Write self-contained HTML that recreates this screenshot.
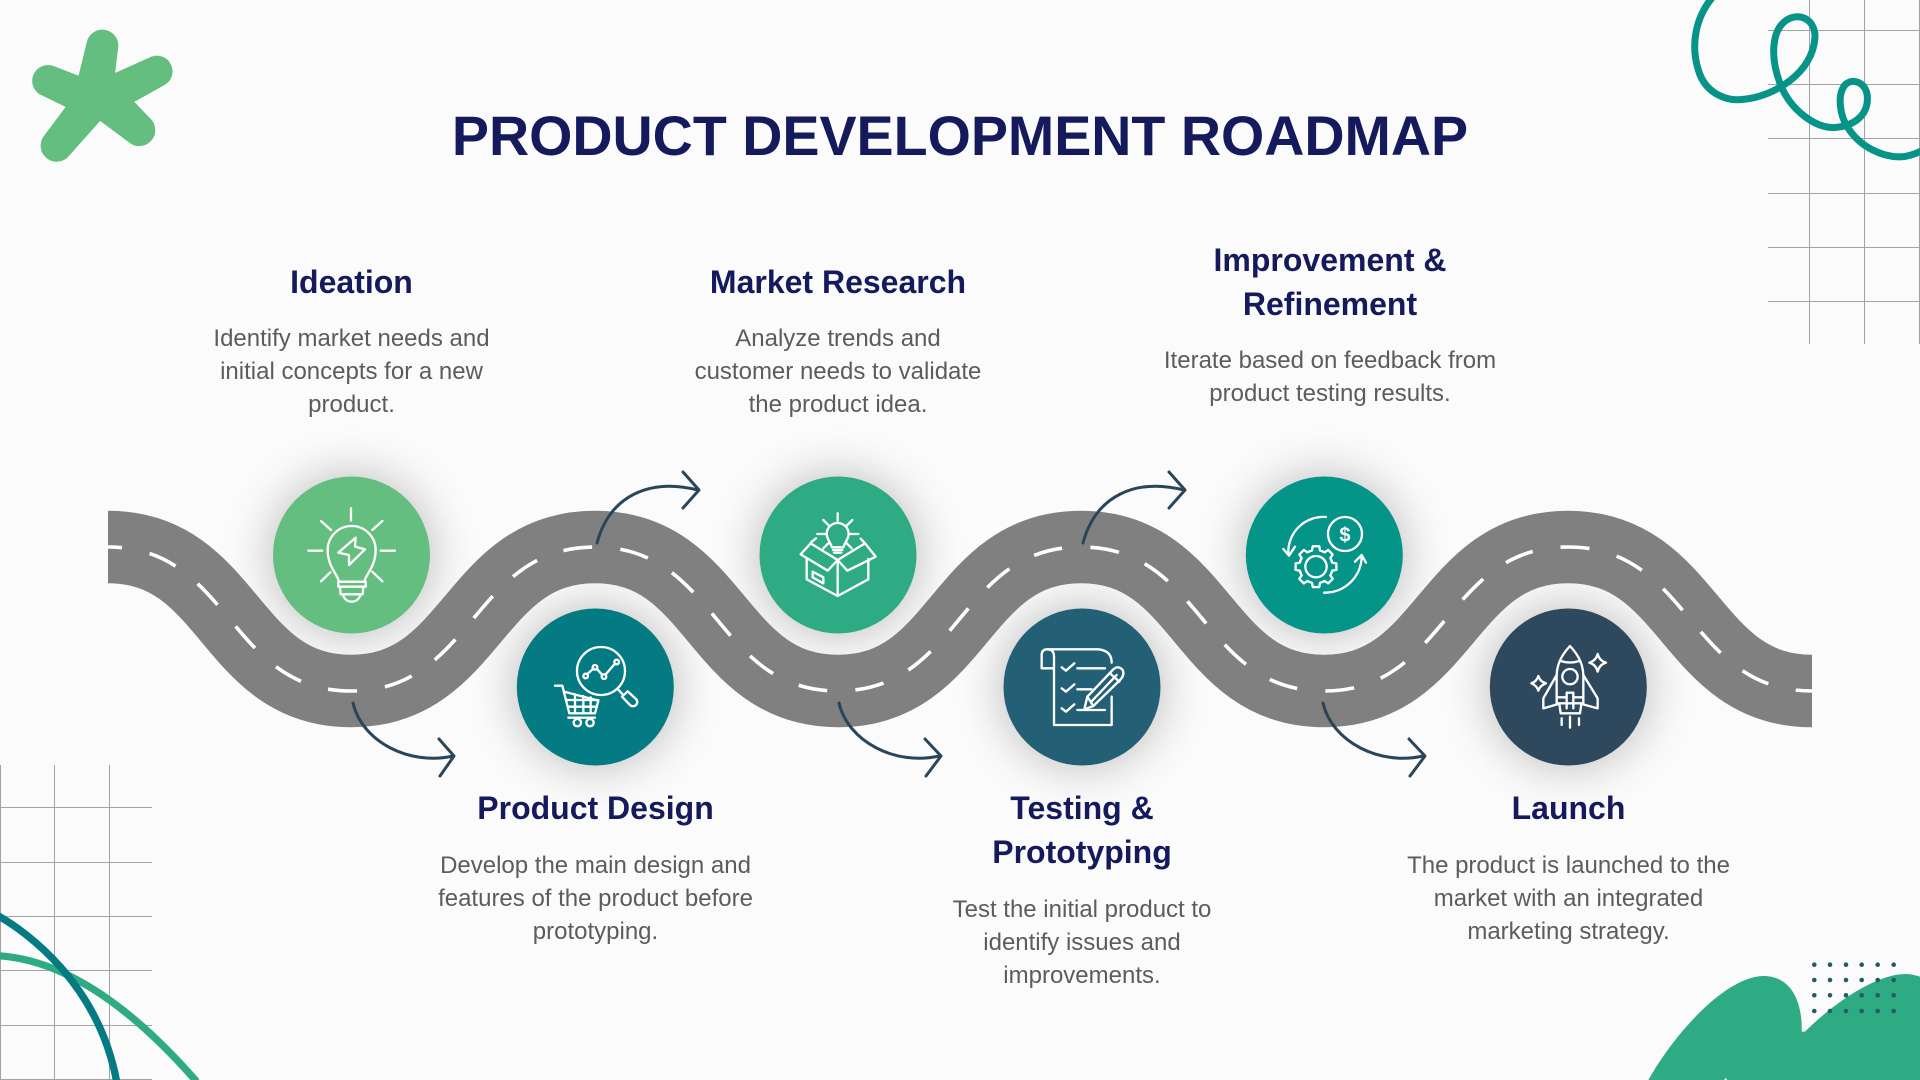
<!DOCTYPE html>
<html lang="en">
<head>
<meta charset="utf-8">
<title>Product Development Roadmap</title>
<style>
html,body{margin:0;padding:0;width:1920px;height:1080px;overflow:hidden;background:#fbfbfc}
svg{display:block;font-family:"Liberation Sans",Arial,sans-serif}
.h{font-weight:700;font-size:32px;fill:#141a5b;text-anchor:middle}
.d{font-size:24px;fill:#5c5c5c;text-anchor:middle}
.ic{fill:none;stroke:#fff;stroke-width:7;stroke-linecap:round;stroke-linejoin:round}
.arr{fill:none;stroke:#2b4558;stroke-width:3;stroke-linecap:round;stroke-linejoin:round}
.g{stroke:#a2a2a2;stroke-width:1;fill:none}
</style>
</head>
<body>
<svg width="1920" height="1080" viewBox="0 0 1920 1080" xmlns="http://www.w3.org/2000/svg">
<defs>
<filter id="b" x="-80%" y="-80%" width="260%" height="260%"><feGaussianBlur stdDeviation="24"/></filter>
</defs>
<rect width="1920" height="1080" fill="#fbfbfc"/>

<!-- grids -->
<path class="g" d="M1768 30.500H1920M1768 84.500H1920M1768 138.500H1920M1768 193.500H1920M1768 247.500H1920M1768 301.500H1920M1809.500 0V344M1864.500 0V344M1919.500 0V344"/>
<path class="g" d="M0 807.500H152M0 862.500H152M0 916.500H152M0 970.500H152M0 1025.500H152M0 1079.500H152M.5 765V1080M54.500 765V1080M109.500 765V1080"/>

<!-- asterisk -->
<g transform="scale(.33333)">
<path fill="#63be7f" stroke="#63be7f" stroke-width="4" stroke-linejoin="round" d="M237 230L262 128A45.500 45.500 0 0 1 352 146L343 222L456 171.500A45 45 0 0 1 494 252.500L400 305L448.500 356A46 46 0 0 1 391.500 428L300 360L205 467A46 46 0 0 1 135 407L200 320L128 285A45 45 0 0 1 160 200Z"/>
</g>

<!-- squiggle -->
<g transform="translate(1640 0) scale(.33333)">
<path fill="none" stroke="#069488" stroke-width="21" stroke-linecap="round" d="M215 -5C170 50 150 130 175 210C195 280 260 305 310 298C400 290 520 220 525 110C525 60 480 35 440 60C395 90 390 170 420 250C450 330 530 390 590 382C650 375 685 340 682 290C680 250 640 230 615 255C590 285 600 350 625 385C660 440 730 475 790 470C810 468 830 460 850 450"/>
</g>

<!-- lower-left arcs -->
<g transform="translate(0 750) scale(.33333)" fill="none" stroke-width="22">
<path stroke="#2fab84" d="M-10 617C150 625 350 720 590 995"/>
<path stroke="#047a82" d="M-10 495C80 545 295 700 350 995"/>
</g>

<!-- blob and dots -->
<g transform="translate(1620 930) scale(.33333)">
<path fill="#2fab84" d="M85 450C170 300 320 140 430 138C510 138 548 210 545 305L555 305C640 220 770 130 860 132C880 133 900 140 900 140V450Z"/>
<path fill="#fff" d="M312 450L317 444L322 450Z"/>
</g>
<g fill="#255a6b">
<circle cx="1814.300" cy="964.700" r="2.300"/><circle cx="1830" cy="964.700" r="2.300"/><circle cx="1846" cy="964.700" r="2.300"/><circle cx="1861.700" cy="964.700" r="2.300"/><circle cx="1877.700" cy="964.700" r="2.300"/><circle cx="1893.700" cy="964.700" r="2.300"/>
<circle cx="1814.300" cy="980" r="2.300"/><circle cx="1830" cy="980" r="2.300"/><circle cx="1846" cy="980" r="2.300"/><circle cx="1861.700" cy="980" r="2.300"/><circle cx="1877.700" cy="980" r="2.300"/><circle cx="1893.700" cy="980" r="2.300"/>
<circle cx="1814.300" cy="995.300" r="2.300"/><circle cx="1830" cy="995.300" r="2.300"/><circle cx="1846" cy="995.300" r="2.300"/><circle cx="1861.700" cy="995.300" r="2.300"/><circle cx="1877.700" cy="995.300" r="2.300"/><circle cx="1893.700" cy="995.300" r="2.300"/>
<circle cx="1814.300" cy="1011" r="2.300"/><circle cx="1830" cy="1011" r="2.300"/><circle cx="1846" cy="1011" r="2.300"/><circle cx="1861.700" cy="1011" r="2.300"/><circle cx="1877.700" cy="1011" r="2.300"/><circle cx="1893.700" cy="1011" r="2.300"/>
</g>

<!-- shadows -->
<g fill="#000" opacity=".25" filter="url(#b)">
<circle cx="351.500" cy="555" r="80"/><circle cx="595.300" cy="687" r="80"/><circle cx="838" cy="555" r="80"/><circle cx="1082" cy="687" r="80"/><circle cx="1324.300" cy="555" r="80"/><circle cx="1568.300" cy="687" r="80"/>
</g>

<!-- road -->
<path fill="none" stroke="#808080" stroke-width="72.500" d="M108 547C231 547 228 691 351 691C474 691 472 547 595 547C718 547 715 691 838 691C961 691 958 547 1081 547C1204 547 1201 691 1324 691C1447 691 1445 547 1568 547C1691 547 1689 691 1812 691"/>
<path fill="none" stroke="#fff" stroke-width="3.600" stroke-dasharray="29 28.220" stroke-dashoffset="15" d="M108 547C231 547 228 691 351 691C474 691 472 547 595 547C718 547 715 691 838 691C961 691 958 547 1081 547C1204 547 1201 691 1324 691C1447 691 1445 547 1568 547C1691 547 1689 691 1812 691"/>

<!-- circles -->
<circle cx="351.500" cy="555" r="78.500" fill="#63be7f"/>
<circle cx="595.300" cy="687" r="78.500" fill="#047a82"/>
<circle cx="838" cy="555" r="78.500" fill="#2fab84"/>
<circle cx="1082" cy="687" r="78.500" fill="#236075"/>
<circle cx="1324.300" cy="555" r="78.500" fill="#049488"/>
<circle cx="1568.300" cy="687" r="78.500" fill="#2e495d"/>

<!-- arrows -->
<g class="arr">
<path d="M353 703C362 742 410 766 453 756M439 739L454 756L440 776"/>
<path d="M839 703C848 742 896 766 939 756M925 739L941 756L926 776"/>
<path d="M1323 703C1332 742 1380 766 1423 756M1409 739L1425 756L1410 776"/>
<path d="M597 543C610 495 650 478 698 490M683 472L699 490L683 508"/>
<path d="M1083 543C1096 495 1136 478 1184 490M1169 472L1185 490L1169 508"/>
</g>

<!-- icon 1: bulb -->
<g class="ic" transform="translate(250 460) scale(.33333)">
<path d="M303 145V182M175 272H217M392 272H435M213 183L243 210M397 183L367 210M213 364L241 337M397 364L367 335"/>
<path d="M267 365C264 345 233 320 233 270A72 72 0 0 1 377 270C377 320 346 345 343 365Z"/>
<path d="M265 365H347V380H265ZM270 380L272 403H338L340 380M278 403Q285 425 305 425Q325 425 332 403"/>
<path d="M317 233L265 278L297 285L297 315L345 268L315 260Z"/>
</g>

<!-- icon 2: cart and magnifier -->
<g class="ic" transform="translate(250 460) scale(.33333)">
<circle cx="1053" cy="633" r="72"/>
<path d="M1012 642L1030 626M1040 626L1056 644M1068 642L1094 612"/>
<circle cx="1007" cy="648" r="7"/><circle cx="1035" cy="622" r="7"/><circle cx="1062" cy="650" r="7"/><circle cx="1100" cy="606" r="7"/>
<path d="M1102 686L1118 703"/>
<path d="M1116 710L1133 694L1158 717A12 12 0 0 1 1140 735Z"/>
<path d="M915 677H937L958 760H1035L1045 722L942 695"/>
<path d="M948 720H1045M953 740H1040M975 703V760M1000 708V760M1022 712V760M955 773H1035"/>
<circle cx="982" cy="788" r="11"/><circle cx="1020" cy="788" r="11"/>
</g>

<!-- icon 3: box and bulb -->
<g class="ic" transform="translate(730 460) scale(.33333)">
<path d="M323 160V183M280 180L297 197M367 180L350 197M262 222H285M362 222H385"/>
<path d="M306 262C300 245 290 235 290 222A33 33 0 0 1 356 222C356 235 346 245 340 262ZM309 270H337M312 278H334"/>
<path d="M230 295V358L323 408L415 358V297M323 300V408"/>
<path d="M323 300L242 250L212 283L293 332Z"/>
<path d="M323 300L405 250L437 290L352 332Z"/>
<path d="M248 335L280 352V370L248 352Z"/>
<path d="M243 247L258 235M405 250L392 236M280 265L295 250M365 265L350 250"/>
</g>

<!-- icon 4: checklist and pencil -->
<g class="ic" transform="translate(730 460) scale(.33333)">
<path d="M952 568H1105Q1145 572 1145 608"/>
<path d="M970 625H935V585Q935 568 952 568Q972 568 972 590V795H1145V710"/>
<path d="M995 622L1008 632L1033 610M995 685L1008 695L1033 673M995 745L1008 755L1033 733"/>
<path d="M1042 625H1125M1042 688H1085M1042 750H1125"/>
<path d="M1063 748L1072 710L1150 628Q1165 615 1178 630Q1185 645 1170 660L1090 738Z"/>
<path d="M1085 724L1160 645M1140 640L1168 665M1072 710L1090 738"/>
</g>

<!-- icon 5: gear and dollar -->
<g class="ic" transform="translate(1220 460) scale(.33333)">
<circle cx="375" cy="222" r="51"/>
<text x="375" y="244" fill="#fff" stroke="none" font-size="60" font-weight="700" text-anchor="middle">$</text>
<path d="M318 171A105 105 0 0 0 205 280M190 267L207 287L225 260"/>
<path d="M312 398A110 110 0 0 0 425 290M405 305L425 285L438 308"/>
<circle cx="288" cy="320" r="32"/>
<g transform="translate(288 320)">
<path d="M46.200 -19.100L48.500 -12.100L61.200 -9.700V9.700L48.500 12.100L46.200 19.100"/>
<path transform="rotate(45)" d="M46.200 -19.100L48.500 -12.100L61.200 -9.700V9.700L48.500 12.100L46.200 19.100"/>
<path transform="rotate(90)" d="M46.200 -19.100L48.500 -12.100L61.200 -9.700V9.700L48.500 12.100L46.200 19.100"/>
<path transform="rotate(135)" d="M46.200 -19.100L48.500 -12.100L61.200 -9.700V9.700L48.500 12.100L46.200 19.100"/>
<path transform="rotate(180)" d="M46.200 -19.100L48.500 -12.100L61.200 -9.700V9.700L48.500 12.100L46.200 19.100"/>
<path transform="rotate(225)" d="M46.200 -19.100L48.500 -12.100L61.200 -9.700V9.700L48.500 12.100L46.200 19.100"/>
<path transform="rotate(270)" d="M46.200 -19.100L48.500 -12.100L61.200 -9.700V9.700L48.500 12.100L46.200 19.100"/>
<path transform="rotate(315)" d="M46.200 -19.100L48.500 -12.100L61.200 -9.700V9.700L48.500 12.100L46.200 19.100"/>
</g>
</g>

<!-- icon 6: rocket -->
<g class="ic" transform="translate(1220 460) scale(.33333)">
<path d="M1050 558C1020 590 1008 620 1010 660V730H1090V660C1092 620 1080 590 1050 558Z"/>
<path d="M1022 603Q1050 612 1078 603"/>
<circle cx="1050" cy="650" r="23"/>
<path d="M1010 645L970 715V745L1015 732M1090 645L1133 715V745L1085 732"/>
<path d="M1010 712H1040M1060 712H1090M1040 745V698H1060V745"/>
<path d="M1018 732L1022 760H1080L1084 732"/>
<path d="M1025 775V795M1050 770V803M1077 775V795"/>
<path d="M955 648Q960 665 978 670Q960 676 955 692Q950 676 934 670Q950 665 955 648Z"/>
<path d="M1133 582Q1138 602 1158 608Q1138 614 1133 635Q1128 614 1108 608Q1128 602 1133 582Z"/>
</g>

<!-- title -->
<text x="960" y="155" font-size="55.600" font-weight="700" fill="#141a5b" text-anchor="middle">PRODUCT DEVELOPMENT ROADMAP</text>

<!-- labels -->
<text class="h" x="351.500" y="293">Ideation</text>
<text class="d" x="351.500" y="346">Identify market needs and</text>
<text class="d" x="351.500" y="379">initial concepts for a new</text>
<text class="d" x="351.500" y="412">product.</text>

<text class="h" x="838" y="293">Market Research</text>
<text class="d" x="838" y="346">Analyze trends and</text>
<text class="d" x="838" y="379">customer needs to validate</text>
<text class="d" x="838" y="412">the product idea.</text>

<text class="h" x="1330" y="271">Improvement &amp;</text>
<text class="h" x="1330" y="315">Refinement</text>
<text class="d" x="1330" y="368">Iterate based on feedback from</text>
<text class="d" x="1330" y="401">product testing results.</text>

<text class="h" x="595.500" y="819">Product Design</text>
<text class="d" x="595.500" y="873">Develop the main design and</text>
<text class="d" x="595.500" y="906">features of the product before</text>
<text class="d" x="595.500" y="939">prototyping.</text>

<text class="h" x="1082" y="819">Testing &amp;</text>
<text class="h" x="1082" y="863">Prototyping</text>
<text class="d" x="1082" y="917">Test the initial product to</text>
<text class="d" x="1082" y="950">identify issues and</text>
<text class="d" x="1082" y="983">improvements.</text>

<text class="h" x="1568.500" y="819">Launch</text>
<text class="d" x="1568.500" y="873">The product is launched to the</text>
<text class="d" x="1568.500" y="906">market with an integrated</text>
<text class="d" x="1568.500" y="939">marketing strategy.</text>
</svg>
</body>
</html>
